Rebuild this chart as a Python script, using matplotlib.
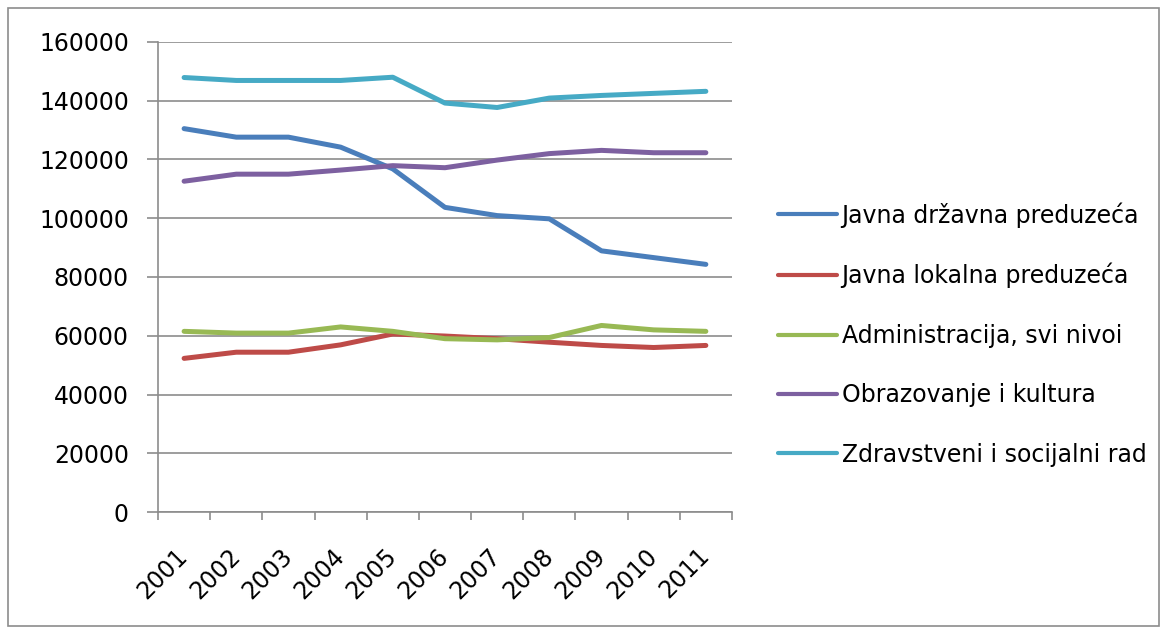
import numpy as np
import matplotlib.pyplot as plt
from matplotlib.patches import Rectangle

years = ['2001', '2002', '2003', '2004', '2005', '2006', '2007', '2008', '2009', '2010', '2011']

drzavna = [130500, 127600, 127600, 124200, 116800, 103700, 100900, 99800, 88900, 86600, 84300]
lokalna = [52300, 54400, 54400, 56900, 60600, 59900, 59000, 57800, 56700, 56000, 56700]
administracija = [61500, 60900, 60900, 63000, 61500, 59000, 58600, 59400, 63500, 62000, 61500]
obrazovanje = [112600, 115000, 115000, 116400, 117900, 117200, 119800, 122000, 123100, 122300, 122300]
zdravstvo = [147900, 146900, 146900, 146900, 148000, 139200, 137700, 140900, 141800, 142500, 143200]

series = [
    ('Javna državna preduzeća', drzavna, '#4A7EBB'),
    ('Javna lokalna preduzeća', lokalna, '#BE4B48'),
    ('Administracija, svi nivoi', administracija, '#98B954'),
    ('Obrazovanje i kultura', obrazovanje, '#7D60A0'),
    ('Zdravstveni i socijalni rad', zdravstvo, '#46AAC5'),
]

fs = 17
grey = '#8c8c8c'

fig = plt.figure(figsize=(11.67, 6.34), dpi=100)
ax = fig.add_axes([0.1354, 0.1924, 0.4918, 0.7414])

x = np.arange(len(years))
for name, vals, col in series:
    ax.plot(x, vals, color=col, lw=3.6, label=name, solid_capstyle='round')

ax.set_xlim(-0.5, len(years) - 0.5)
ax.set_ylim(0, 160000)
ax.set_yticks(np.arange(0, 160001, 20000))
ax.grid(axis='y', color=grey, lw=1.2)
ax.set_axisbelow(True)

# ticks at category boundaries, labels at centres
ax.set_xticks(np.arange(-0.5, len(years)))
ax.set_xticklabels([])
ax.set_xticks(x, minor=True)
ax.set_xticklabels(years, minor=True, rotation=45, ha='right', va='center',
                   rotation_mode='anchor', fontsize=fs)
ax.tick_params(axis='x', which='major', length=6, color=grey, width=1.2)
ax.tick_params(axis='x', which='minor', length=0, pad=29)
ax.tick_params(axis='y', length=8, color=grey, width=1.2, labelsize=fs, pad=13)

for s in ['top', 'right']:
    ax.spines[s].set_visible(False)
for s in ['left', 'bottom']:
    ax.spines[s].set_color(grey)
    ax.spines[s].set_linewidth(1.2)

leg = ax.legend(loc='center left', bbox_to_anchor=(1.08, 0.378), frameon=False,
                fontsize=fs, handlelength=2.5, handletextpad=0.2, labelspacing=1.5,
                borderpad=0, borderaxespad=0)
for h in leg.get_lines():
    h.set_linewidth(3)

fig.patches.append(Rectangle((8 / 1167, 8 / 634), 1151 / 1167, 618 / 634,
                             transform=fig.transFigure, fill=False,
                             edgecolor=grey, lw=1.2))

fig.savefig('out.png', dpi=100)
